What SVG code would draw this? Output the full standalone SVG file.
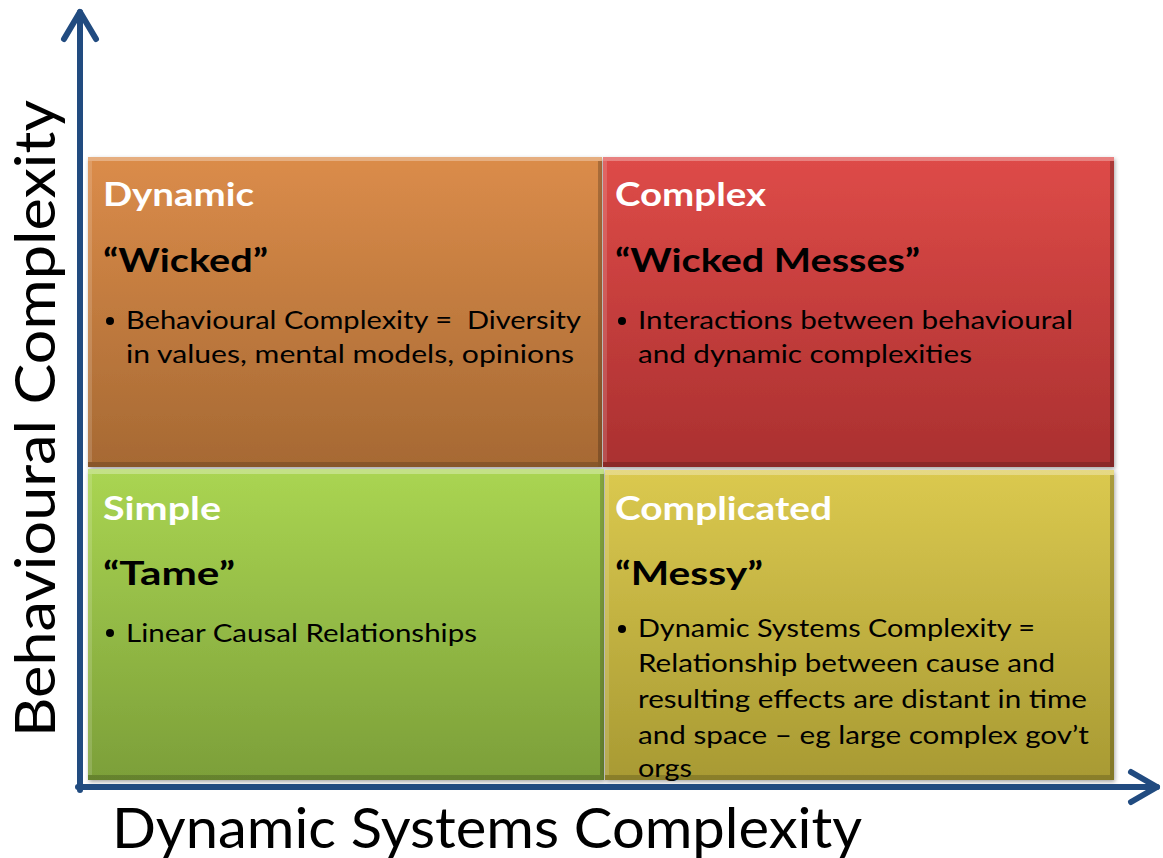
<svg xmlns="http://www.w3.org/2000/svg" width="1163" height="858" viewBox="0 0 1163 858">
<style>
.title{font-family:Lato,"Open Sans",sans-serif;font-weight:bold;font-size:33px;fill:#ffffff}
.sub{font-family:Lato,"Open Sans",sans-serif;font-weight:bold;font-size:33px;fill:#000000}
.body{font-family:Lato,"Open Sans",sans-serif;font-size:25.5px;fill:#000000}
.axis{font-family:Lato,"Open Sans",sans-serif;font-size:56px;fill:#000000}
.ax{stroke:#214B80;stroke-width:6;fill:none;stroke-linecap:round;stroke-linejoin:round}
.hl{fill:#ffffff;opacity:0.3}
.hl2{fill:#ffffff;opacity:0.15}
.sh{fill:#000000;opacity:0.18}
.sh2{fill:#000000;opacity:0.22}
</style>
<defs>
<linearGradient id="gO" x1="0" y1="0" x2="0" y2="1"><stop offset="0" stop-color="#DB8C4A"/><stop offset="1" stop-color="#A66933"/></linearGradient>
<linearGradient id="gR" x1="0" y1="0" x2="0" y2="1"><stop offset="0" stop-color="#DE4B48"/><stop offset="1" stop-color="#AA3030"/></linearGradient>
<linearGradient id="gG" x1="0" y1="0" x2="0" y2="1"><stop offset="0" stop-color="#AAD552"/><stop offset="1" stop-color="#7C9F39"/></linearGradient>
<linearGradient id="gY" x1="0" y1="0" x2="0" y2="1"><stop offset="0" stop-color="#DBC94F"/><stop offset="1" stop-color="#A89A33"/></linearGradient>
<filter id="ds" x="-5%" y="-5%" width="110%" height="110%"><feDropShadow dx="1" dy="2" stdDeviation="2" flood-color="#000" flood-opacity="0.35"/></filter>
</defs>

<g id="node-dynamic">
<rect x="88" y="157" width="514" height="310" fill="url(#gO)" filter="url(#ds)"/>
<rect class="hl" x="88" y="157" width="514" height="4"/>
<rect class="hl2" x="88" y="161" width="4" height="301"/>
<rect class="sh2" x="598" y="161" width="4" height="306"/>
<rect class="sh" x="88" y="462" width="510" height="5"/>
<text class="title" x="103" y="206" textLength="151" lengthAdjust="spacingAndGlyphs">Dynamic</text>
<text class="sub" x="103" y="272" textLength="165" lengthAdjust="spacingAndGlyphs">“Wicked”</text>
<circle cx="110" cy="321" r="4" fill="#000"/>
<text class="body" x="126" y="329" textLength="455" lengthAdjust="spacingAndGlyphs">Behavioural Complexity =&#160; Diversity</text>
<text class="body" x="126" y="363" textLength="448" lengthAdjust="spacingAndGlyphs">in values, mental models, opinions</text>
</g>

<g id="node-complex">
<rect x="603" y="157" width="511" height="310" fill="url(#gR)" filter="url(#ds)"/>
<rect class="hl" x="603" y="157" width="511" height="4"/>
<rect class="hl2" x="603" y="161" width="4" height="301"/>
<rect class="sh2" x="1110" y="161" width="4" height="306"/>
<rect class="sh" x="603" y="462" width="507" height="5"/>
<text class="title" x="615" y="206" textLength="151" lengthAdjust="spacingAndGlyphs">Complex</text>
<text class="sub" x="615" y="272" textLength="305" lengthAdjust="spacingAndGlyphs">“Wicked Messes”</text>
<circle cx="622" cy="321" r="4" fill="#000"/>
<text class="body" x="638" y="329" textLength="435" lengthAdjust="spacingAndGlyphs">Interactions between behavioural</text>
<text class="body" x="638" y="363" textLength="334" lengthAdjust="spacingAndGlyphs">and dynamic complexities</text>
</g>

<g id="node-simple">
<rect x="88" y="469" width="516" height="311" fill="url(#gG)" filter="url(#ds)"/>
<rect class="hl" x="88" y="469" width="516" height="5"/>
<rect class="hl2" x="88" y="474" width="4" height="301"/>
<rect class="sh2" x="600" y="474" width="4" height="306"/>
<rect class="sh" x="88" y="775" width="512" height="5"/>
<text class="title" x="103" y="520" textLength="118" lengthAdjust="spacingAndGlyphs">Simple</text>
<text class="sub" x="103" y="585" textLength="132" lengthAdjust="spacingAndGlyphs">“Tame”</text>
<circle cx="110" cy="633" r="4" fill="#000"/>
<text class="body" x="126" y="642" textLength="351" lengthAdjust="spacingAndGlyphs">Linear Causal Relationships</text>
</g>

<g id="node-complicated">
<rect x="605" y="470" width="509" height="310" fill="url(#gY)" filter="url(#ds)"/>
<rect class="hl" x="605" y="470" width="509" height="5"/>
<rect class="hl2" x="605" y="475" width="4" height="300"/>
<rect class="sh2" x="1110" y="475" width="4" height="305"/>
<rect class="sh" x="605" y="775" width="505" height="5"/>
<text class="title" x="615" y="520" textLength="217" lengthAdjust="spacingAndGlyphs">Complicated</text>
<text class="sub" x="615" y="585" textLength="148" lengthAdjust="spacingAndGlyphs">“Messy”</text>
<circle cx="622" cy="629" r="4" fill="#000"/>
<text class="body" x="638" y="637" textLength="397" lengthAdjust="spacingAndGlyphs">Dynamic Systems Complexity =</text>
<text class="body" x="638" y="672" textLength="417" lengthAdjust="spacingAndGlyphs">Relationship between cause and</text>
<text class="body" x="638" y="708" textLength="449" lengthAdjust="spacingAndGlyphs">resulting effects are distant in time</text>
<text class="body" x="638" y="744" textLength="451" lengthAdjust="spacingAndGlyphs">and space – eg large complex gov’t</text>
<text class="body" x="638" y="777" textLength="54" lengthAdjust="spacingAndGlyphs">orgs</text>
</g>

<g id="connectors">
<line class="ax" x1="80" y1="790" x2="80" y2="12"/>
<polyline class="ax" points="64,39 80,12 96,39" stroke-width="7"/>
<line class="ax" x1="78" y1="787" x2="1157" y2="787"/>
<polyline class="ax" points="1131,772 1157,787 1131,802" stroke-width="7"/>
</g>

<g id="axis-labels">
<text class="axis" x="112" y="848" textLength="750" lengthAdjust="spacingAndGlyphs">Dynamic Systems Complexity</text>
<text class="axis" transform="translate(55,737) rotate(-90)" x="0" y="0" textLength="637" lengthAdjust="spacingAndGlyphs">Behavioural Complexity</text>
</g>
</svg>
